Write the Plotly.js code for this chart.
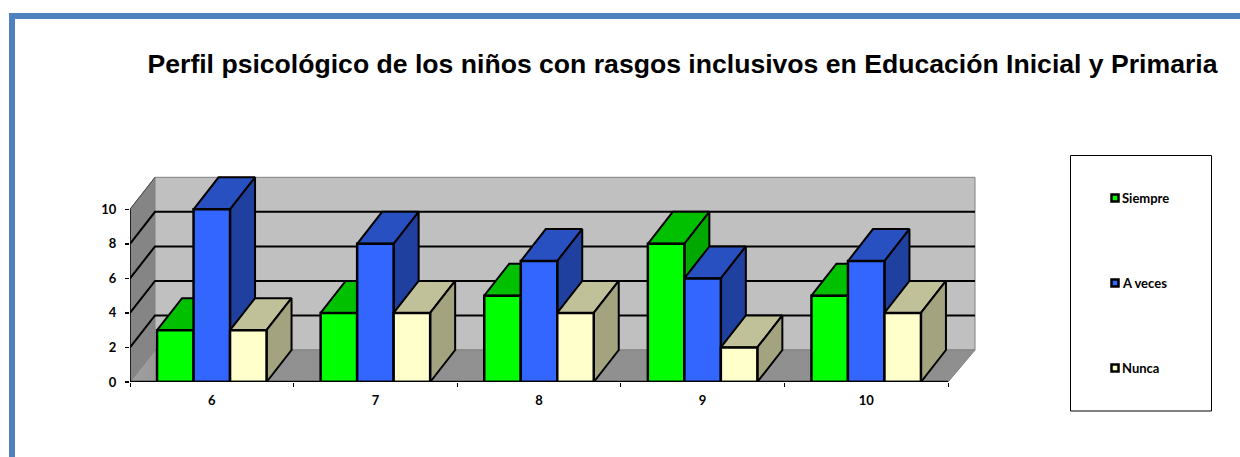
<!DOCTYPE html>
<html><head><meta charset="utf-8">
<script src="https://cdn.plot.ly/plotly-3.0.1.min.js"></script>
<style>html,body{margin:0;padding:0;background:#fff}#c{width:1240px;height:457px}</style>
</head><body><div id="c"></div>
<script>
const categories = ['6','7','8','9','10'];
const siempre = [3,4,5,8,5];
const aVeces = [10,8,7,6,7];
const nunca = [3,4,4,2,4];
const seriesNames = ['Siempre','A veces','Nunca'];
const seriesValues = [siempre,aVeces,nunca];
const frontColors = ['#00ff00','#3366ff','#ffffcc'];
const topColors = ['#00c000','#2850c0','#c0c099'];
const sideColors = ['#00a800','#2040a0','#a3a380'];
const yTicks = [0,2,4,6,8,10];

const W=1240,H=457,L=130,R=980,T=170,B=382;
const xUnit=163.6, yUnit=17.27;
const dx=25/xUnit, dy=32/yUnit, barW=36.5/xUnit, wallX=27/xUnit;
const xMax=(R-L)/xUnit, yMax=(B-T)/yUnit, nCat=categories.length, yTop=10;
const paperX=x=>(x-L)/(R-L), paperY=y=>(B-y)/(B-T);

const traces=[];
function poly(xs,ys,color,line,width){
  traces.push({type:'scatter',mode:'lines',x:xs,y:ys,fill:'toself',fillcolor:color,
    line:{color:line,width:width},hoverinfo:'skip',showlegend:false,xaxis:'x',yaxis:'y'});
}
// walls and floor
poly([0,dx,dx,0,0],[0,dy,yTop+dy,yTop,0],'#858585','#808080',1);
poly([dx,nCat+wallX,nCat+wallX,dx,dx],[dy,dy,yTop+dy,yTop+dy,dy],'#c0c0c0','#808080',1);
traces.push({type:'scatter',mode:'lines',x:[0,nCat,nCat+wallX,dx,0],y:[0,0,dy,dy,0],fill:'toself',
  fillgradient:{type:'horizontal',colorscale:[[0,'#a0a0a0'],[0.03,'#999999'],[0.035,'#919191'],[1,'#8f8f8f']]},
  line:{color:'#808080',width:1},hoverinfo:'skip',showlegend:false});
// gridlines on left and back wall
const gx=[],gy=[];
yTicks.filter(v=>v>0&&v<yTop).forEach(v=>{gx.push(0,dx,nCat+wallX,null);gy.push(v,v+dy,v+dy,null);});
traces.push({type:'scatter',mode:'lines',x:gx,y:gy,line:{color:'#000',width:2},hoverinfo:'skip',showlegend:false});
traces.push({type:'scatter',mode:'lines',x:[0,dx],y:[yTop,yTop+dy],line:{color:'#444',width:1},hoverinfo:'skip',showlegend:false});
// 3-D faces, back to front
seriesValues.forEach((vals,j)=>{
  const tx=[],ty=[],sx=[],sy=[];
  vals.forEach((v,i)=>{
    const l=i+0.5+(j-1.5)*barW, r=l+barW;
    tx.push(l,r,r+dx,l+dx,l,null); ty.push(v,v,v+dy,v+dy,v,null);
    sx.push(r,r+dx,r+dx,r,r,null); sy.push(0,dy,v+dy,v,0,null);
  });
  poly(tx,ty,topColors[j],'#000',2);
  poly(sx,sy,sideColors[j],'#000',2);
});
// axis lines
traces.push({type:'scatter',mode:'lines',x:[0,0],y:[0,yTop],line:{color:'#000',width:1.5},hoverinfo:'skip',showlegend:false});
// front faces
seriesValues.forEach((vals,j)=>{
  traces.push({type:'bar',name:seriesNames[j],x:categories.map((c,i)=>i+0.5),y:vals,
    width:barW,offset:(j-1.5)*barW,xaxis:'x2',yaxis:'y2',cliponaxis:false,showlegend:false,
    marker:{color:frontColors[j],line:{color:'#000',width:2.5}}});
});
traces.push({type:'scatter',mode:'lines',x:[0,nCat],y:[0,0],line:{color:'#000',width:2.5},
  xaxis:'x2',yaxis:'y2',cliponaxis:false,hoverinfo:'skip',showlegend:false});

const labelFont={family:'Lato, "Open Sans", sans-serif',size:13,color:'#000',weight:700};
const shapes=[
  {type:'rect',xref:'paper',yref:'paper',x0:paperX(9),x1:paperX(1240),y0:paperY(13),y1:paperY(19),fillcolor:'#4f81bd',line:{width:0}},
  {type:'rect',xref:'paper',yref:'paper',x0:paperX(9),x1:paperX(15),y0:paperY(13),y1:paperY(457),fillcolor:'#4f81bd',line:{width:0}},
  {type:'rect',xref:'paper',yref:'paper',x0:paperX(1070.5),x1:paperX(1211.5),y0:paperY(155.5),y1:paperY(411),fillcolor:'#fff',line:{color:'#000',width:1}}
];
const legendY=[198,283,368];
const annotations=seriesNames.map((n,j)=>({xref:'paper',yref:'paper',x:paperX(1120),y:paperY(legendY[j]),
  xanchor:'left',yanchor:'middle',text:n,showarrow:false,font:labelFont}));
seriesNames.forEach((n,j)=>shapes.push({type:'rect',xref:'paper',yref:'paper',
  x0:paperX(1111.5),x1:paperX(1118.5),y0:paperY(legendY[j]-3.5),y1:paperY(legendY[j]+3.5),
  fillcolor:frontColors[j],line:{color:'#000',width:2.5}}));

const layout={
  width:W,height:H,margin:{l:L,r:W-R,t:T,b:H-B,pad:0},paper_bgcolor:'#fff',plot_bgcolor:'rgba(0,0,0,0)',
  showlegend:false,hovermode:false,barmode:'overlay',
  title:{text:'Perfil psicológico de los niños con rasgos inclusivos en Educación Inicial y Primaria',
    xref:'container',yref:'container',x:682.5/W,y:1-64/H,xanchor:'center',yanchor:'middle',
    font:{family:'"Liberation Sans", Arial, sans-serif',size:26.6,color:'#000',weight:700}},
  xaxis:{range:[0,xMax],tickmode:'array',tickvals:categories.map((c,i)=>i+0.5),ticktext:categories,
    ticks:'',showgrid:false,zeroline:false,showline:false,tickfont:labelFont,ticklabelstandoff:9,
    minor:{tickmode:'array',tickvals:[0,1,2,3,4,5],ticks:'outside',ticklen:4,tickwidth:1,tickcolor:'#000',showgrid:false}},
  yaxis:{range:[0,yMax],tickmode:'array',tickvals:yTicks,ticks:'outside',ticklen:4,tickwidth:1.5,tickcolor:'#000',
    showgrid:false,zeroline:false,showline:false,tickfont:labelFont,ticklabelstandoff:6},
  xaxis2:{range:[0,xMax],overlaying:'x',visible:false},
  yaxis2:{range:[0,yMax],overlaying:'y',visible:false},
  shapes:shapes,annotations:annotations
};
Plotly.newPlot('c',traces,layout,{displayModeBar:false,staticPlot:true});
</script></body></html>
